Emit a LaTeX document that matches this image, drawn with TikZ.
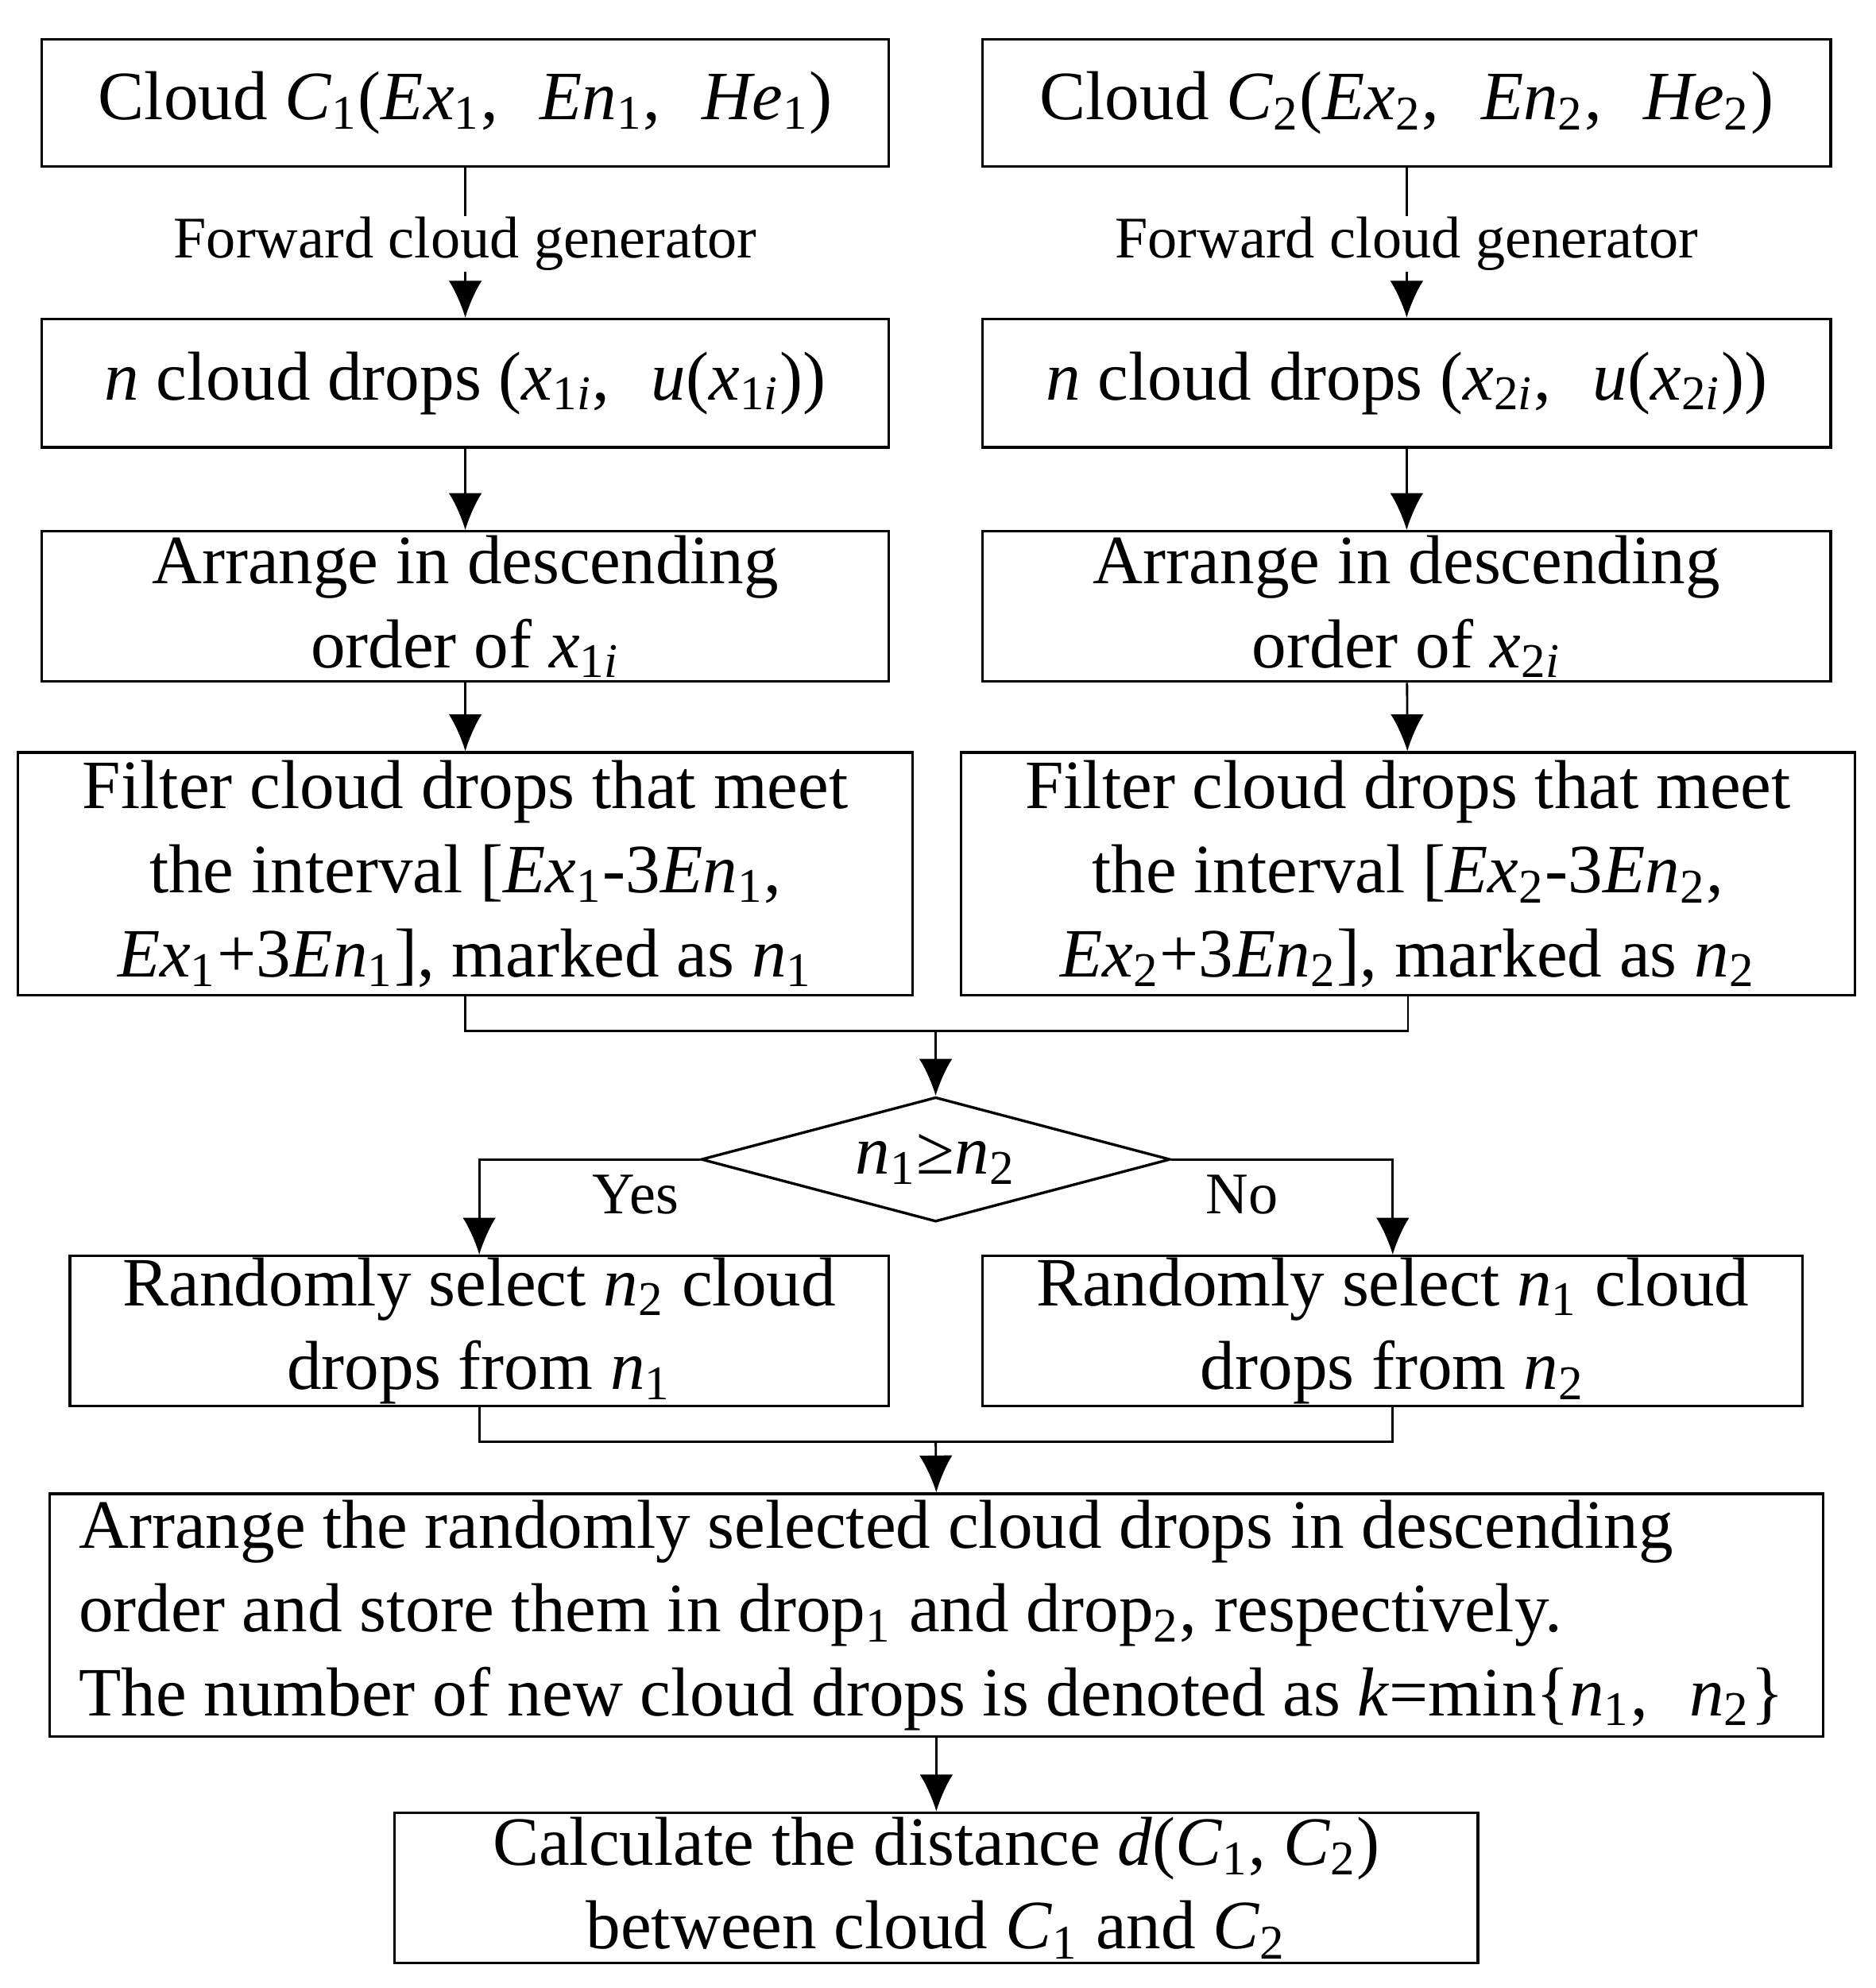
\documentclass[tikz,border=0pt]{standalone}
\usepackage{fontspec}
\setmainfont{Liberation Serif}
\usetikzlibrary{arrows.meta, positioning, calc, shapes.geometric}
\newcommand{\vv}[1]{\textit{#1}}
\newcommand{\sbs}[1]{\textsubscript{#1}}
\newcommand{\cm}{,\hspace{0.6em}}

\begin{document}
\begin{tikzpicture}[
    every node/.style={align=center, inner sep=0pt, font=\fontsize{15.5}{18.8}\selectfont},
    box/.style={draw, line width=0.6pt},
    lbl/.style={font=\fontsize{13.2}{16}\selectfont},
    every path/.style={line width=0.5pt},
    >={Latex[length=2.9mm, width=2.6mm]}
]
\useasboundingbox (0,0) rectangle (14.756,-15.638);

\node (c1)  at (3.66, -0.81)   [box, minimum width=6.66cm, minimum height=1.00cm] {Cloud \vv{C}\sbs{1}(\vv{Ex}\sbs{1}\cm\vv{En}\sbs{1}\cm\vv{He}\sbs{1})};
\node (c2)  at (11.065, -0.81) [box, minimum width=6.67cm, minimum height=1.00cm] {Cloud \vv{C}\sbs{2}(\vv{Ex}\sbs{2}\cm\vv{En}\sbs{2}\cm\vv{He}\sbs{2})};
\node (g1)  at (3.66, -1.92)   [lbl] {Forward cloud generator};
\node (g2)  at (11.065, -1.92) [lbl] {Forward cloud generator};
\node (d1)  at (3.66, -3.015)  [box, minimum width=6.66cm, minimum height=1.01cm] {\vv{n} cloud drops (\vv{x}\sbs{1\vv{i}}\cm\vv{u}(\vv{x}\sbs{1\vv{i}}))};
\node (d2)  at (11.065, -3.015)[box, minimum width=6.67cm, minimum height=1.01cm] {\vv{n} cloud drops (\vv{x}\sbs{2\vv{i}}\cm\vv{u}(\vv{x}\sbs{2\vv{i}}))};
\node (a1)  at (3.66, -4.77)   [box, minimum width=6.66cm, minimum height=1.18cm] {Arrange in descending\\ order of \vv{x}\sbs{1\vv{i}}};
\node (a2)  at (11.065, -4.77) [box, minimum width=6.67cm, minimum height=1.18cm] {Arrange in descending\\ order of \vv{x}\sbs{2\vv{i}}};
\node (f1)  at (3.66, -6.875)  [box, minimum width=7.04cm, minimum height=1.91cm] {Filter cloud drops that meet\\ the interval [\vv{Ex}\sbs{1}-3\vv{En}\sbs{1},\\ \vv{Ex}\sbs{1}+3\vv{En}\sbs{1}], marked as \vv{n}\sbs{1}};
\node (f2)  at (11.075, -6.875)[box, minimum width=7.03cm, minimum height=1.91cm] {Filter cloud drops that meet\\ the interval [\vv{Ex}\sbs{2}-3\vv{En}\sbs{2},\\ \vv{Ex}\sbs{2}+3\vv{En}\sbs{2}], marked as \vv{n}\sbs{2}};
\coordinate (m1) at (7.36, -8.11);
\node (dec) at (7.36, -9.12)   [box, diamond, aspect=3.7, minimum width=3.69cm, minimum height=0.98cm] {\vv{n}\sbs{1}≥\vv{n}\sbs{2}};
\node (yes) at (5.00, -9.40)   [lbl] {Yes};
\node (no)  at (9.77, -9.40)   [lbl] {No};
\node (r1)  at (3.77, -10.47)  [box, minimum width=6.44cm, minimum height=1.18cm] {Randomly select \vv{n}\sbs{2} cloud\\ drops from \vv{n}\sbs{1}};
\node (r2)  at (10.955, -10.47)[box, minimum width=6.45cm, minimum height=1.18cm] {Randomly select \vv{n}\sbs{1} cloud\\ drops from \vv{n}\sbs{2}};
\coordinate (m2) at (7.36, -11.34);
\node (big) at (7.365, -12.705)[box, minimum width=13.95cm, minimum height=1.91cm, text width=13.49cm, inner xsep=0.23cm, align=flush left] {Arrange the randomly selected cloud drops in descending\\ order and store them in drop\sbs{1} and drop\sbs{2}, respectively.\\ The number of new cloud drops is denoted as \vv{k}=min\{\vv{n}\sbs{1}\cm\vv{n}\sbs{2}\}};
\node (calc) at (7.365, -14.85)[box, minimum width=8.52cm, minimum height=1.18cm] {Calculate the distance \vv{d}(\vv{C}\sbs{1}, \vv{C}\sbs{2})\\ between cloud \vv{C}\sbs{1} and \vv{C}\sbs{2}};

\draw (c1) -- (g1);
\draw (c2) -- (g2);
\draw[->] (g1) -- (d1);
\draw[->] (g2) -- (d2);
\draw[->] (d1) -- (a1);
\draw[->] (d2) -- (a2);
\draw[->] (a1) -- (f1);
\draw[->] (a2) -- (f2);
\draw (f1.south) |- (m1) -| (f2.south);
\draw[->] (m1) -- (dec.north);
\draw[->] (dec.west) -| (r1.north);
\draw[->] (dec.east) -| (r2.north);
\draw (r1.south) |- (m2) -| (r2.south);
\draw[->] (m2) -- (big.north);
\draw[->] (big) -- (calc);
\end{tikzpicture}
\end{document}
